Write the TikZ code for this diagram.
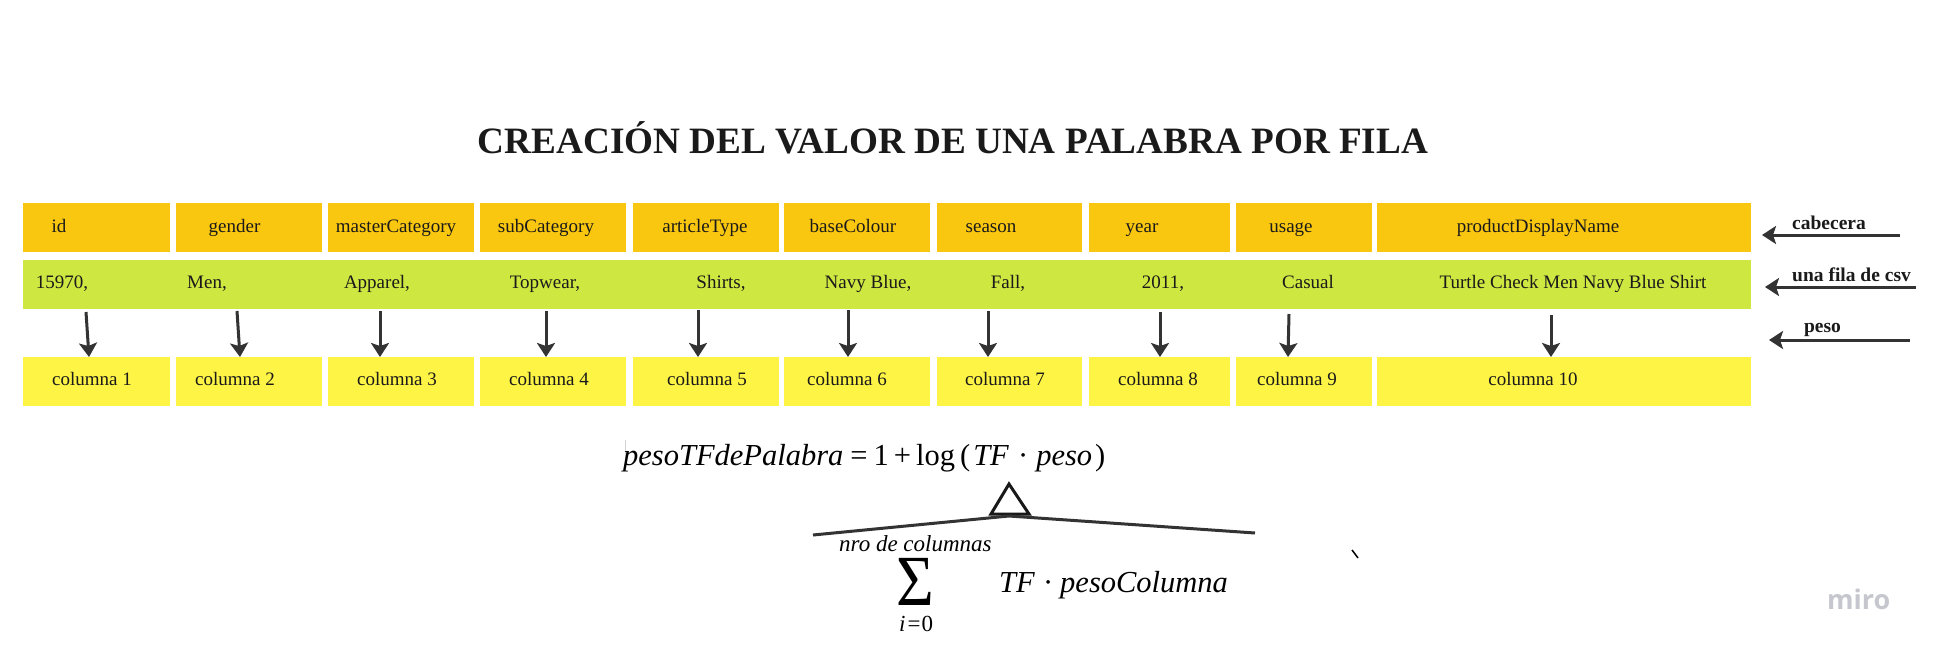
\documentclass[tikz,border=0pt]{standalone}
\usepackage{fontspec}
\usepackage{graphicx}
\setmainfont{Liberation Serif}
\newfontfamily\miroFont{Open Sans}
\usetikzlibrary{arrows.meta,calc}
\definecolor{hdrC}{HTML}{FAC710}
\definecolor{rowC}{HTML}{CEE741}
\definecolor{colC}{HTML}{FEF445}
\definecolor{inkC}{HTML}{333333}
\definecolor{txtC}{HTML}{1A1A1A}
\definecolor{miroC}{HTML}{C6C7CE}
\begin{document}
\begin{tikzpicture}[x=1pt,y=-1pt,
  box/.style={draw=none,inner sep=0,outer sep=0,anchor=north west,minimum height=49pt},
  hbox/.style={box,fill=hdrC},
  cbox/.style={box,fill=colC},
  rowbox/.style={box,fill=rowC},
  lbl/.style={inner sep=0,anchor=base,font=\fontsize{19}{22}\selectfont,text=txtC},
  side/.style={inner sep=0,anchor=base,font=\fontsize{19.5}{23}\selectfont\bfseries,text=txtC},
  ttl/.style={inner sep=0,anchor=base,font=\fontsize{37.2}{40}\selectfont\bfseries,text=txtC},
  frm/.style={inner sep=0,anchor=base west,text=black},
  arr/.style={draw=inkC,line width=3pt,-{Stealth[length=14pt,width=18pt,inset=3pt]}},
  bar/.style={draw=inkC,line width=3pt},
]
\useasboundingbox (0,0) rectangle (1933,654);
\fill[white] (0,0) rectangle (1933,654);

% title
\node[ttl] (title) at (953,153) {CREACIÓN DEL VALOR DE UNA PALABRA POR FILA};

% header boxes and column boxes
\foreach \i/\xl/\w in {1/23/147,2/176/146,3/328/146,4/480/146,5/633/146,6/784/146,7/937/145,8/1089/141,9/1236/136,10/1377/374}{
  \node[hbox,minimum width=\w pt] (h\i) at (\xl,203) {};
  \node[cbox,minimum width=\w pt] (c\i) at (\xl,357) {};
}
% csv row
\node[rowbox,minimum width=1728pt] (row) at (23,260) {};

% header texts
\node[lbl] (ht1) at (59,232) {id};
\node[lbl] (ht2) at (234.5,232) {gender};
\node[lbl] (ht3) at (396,232) {masterCategory};
\node[lbl] (ht4) at (546,232) {subCategory};
\node[lbl] (ht5) at (705,232) {articleType};
\node[lbl] (ht6) at (853,232) {baseColour};
\node[lbl] (ht7) at (991,232) {season};
\node[lbl] (ht8) at (1142,232) {year};
\node[lbl] (ht9) at (1291,232) {usage};
\node[lbl] (ht10) at (1538,232) {productDisplayName};

% row texts
\node[lbl] (rt1) at (62,288) {15970,};
\node[lbl] (rt2) at (207,288) {Men,};
\node[lbl] (rt3) at (377,288) {Apparel,};
\node[lbl] (rt4) at (545,288) {Topwear,};
\node[lbl] (rt5) at (721,288) {Shirts,};
\node[lbl] (rt6) at (868,288) {Navy Blue,};
\node[lbl] (rt7) at (1008,288) {Fall,};
\node[lbl] (rt8) at (1163,288) {2011,};
\node[lbl] (rt9) at (1308,288) {Casual};
\node[lbl] (rt10) at (1573,288) {Turtle Check Men Navy Blue Shirt};

% column texts
\node[lbl] (ct1) at (92,385) {columna 1};
\node[lbl] (ct2) at (235,385) {columna 2};
\node[lbl] (ct3) at (397,385) {columna 3};
\node[lbl] (ct4) at (549,385) {columna 4};
\node[lbl] (ct5) at (707,385) {columna 5};
\node[lbl] (ct6) at (847,385) {columna 6};
\node[lbl] (ct7) at (1005,385) {columna 7};
\node[lbl] (ct8) at (1158,385) {columna 8};
\node[lbl] (ct9) at (1297,385) {columna 9};
\node[lbl] (ct10) at (1533,385) {columna 10};

% arrows row -> columns
\draw[arr] ($(row.south west)+(63,3)$) -- ($(c1.north west)+(66,0)$);
\draw[arr] ($(row.south west)+(214,2)$) -- ($(c2.north west)+(64,0)$);
\draw[arr] ($(row.south west)+(357,2)$) -- ($(c3.north west)+(52,0)$);
\draw[arr] ($(row.south west)+(523,2)$) -- ($(c4.north west)+(66,0)$);
\draw[arr] ($(row.south west)+(675,1)$) -- ($(c5.north west)+(65,0)$);
\draw[arr] ($(row.south west)+(825,1)$) -- ($(c6.north west)+(64,0)$);
\draw[arr] ($(row.south west)+(965,2)$) -- ($(c7.north west)+(51,0)$);
\draw[arr] ($(row.south west)+(1137,3)$) -- ($(c8.north west)+(71,0)$);
\draw[arr] ($(row.south west)+(1266,5)$) -- ($(c9.north west)+(52,0)$);
\draw[arr] ($(row.south west)+(1528,6)$) -- ($(c10.north west)+(174,0)$);

% side labels
\node[side] (cab) at (1829,229) {cabecera};
\node[side] (fila) at (1851.5,281) {una fila de csv};
\node[side] (peso) at (1822.5,332) {peso};
\coordinate (cabS) at (1900,235);
\coordinate (cabT) at (1762,235);
\coordinate (filaS) at (1916,287);
\coordinate (filaT) at (1765,287);
\coordinate (pesoS) at (1910,340);
\coordinate (pesoT) at (1769,340);
\draw[arr] (cabS) -- (cabT);
\draw[arr] (filaS) -- (filaT);
\draw[arr] (pesoS) -- (pesoT);

% formula
\draw[gray!35,line width=1pt] (625,440) -- (625,463);
\node[frm,font=\fontsize{30.5}{34}\selectfont] (f1) at (623,465)
 {\textit{pesoTFdePalabra}\hspace{7pt}=\hspace{6pt}1\hspace{5pt}+\hspace{5pt}log\hspace{5pt}(\hspace{3pt}\textit{TF}\hspace{9pt}·\hspace{8pt}\textit{peso}\hspace{3pt})};

\coordinate (tA) at (1009,484);
\coordinate (tL) at (991,514);
\coordinate (tR) at (1029,514);
\draw[draw=black!90,line width=3pt,line join=miter,fill=white] (tA) -- (tL) -- (tR) -- cycle;
\coordinate (bM) at (1009,516);
\coordinate (bL) at (813,535);
\coordinate (bR) at (1255,533);
\draw[bar] (bL) -- (bM) -- (bR);

\node[frm,font=\fontsize{23}{26}\selectfont\itshape] (nro) at (839,551) {nro de columnas};
\node[frm,font=\fontsize{72}{76}\selectfont] (sig) at (896,605) {\scalebox{0.9}[1]{Σ}};
\node[frm,font=\fontsize{23}{26}\selectfont] (idx) at (899,631) {\textit{i}\hspace{2pt}=\hspace{1pt}0};
\node[frm,font=\fontsize{30.5}{34}\selectfont] (f2) at (999,592)
 {\textit{TF}\hspace{8pt}·\hspace{7pt}\textit{pesoColumna}};

\draw[black,line width=1.5pt] (1352,550) -- (1358,558);

\node[inner sep=0,anchor=base west,font=\fontsize{27}{30}\selectfont\miroFont\bfseries,text=miroC] (miro) at (1827,609) {miro};
\end{tikzpicture}
\end{document}
